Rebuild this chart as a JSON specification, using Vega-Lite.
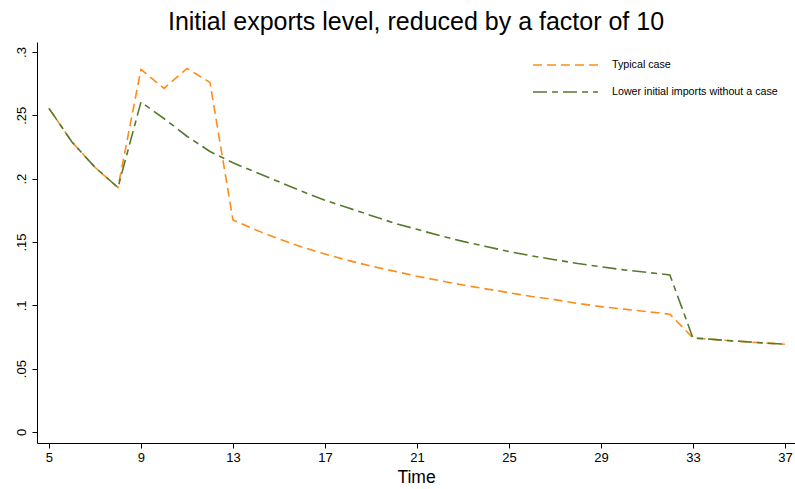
{
  "$schema": "https://vega.github.io/schema/vega-lite/v6.json",
  "width": 758,
  "height": 401,
  "autosize": {"type": "none"},
  "padding": {"left": 37, "top": 42, "right": 0, "bottom": 46},
  "background": "white",
  "config": {
    "font": "Liberation Sans",
    "view": {"stroke": null},
    "axis": {"grid": false, "domainColor": "black", "tickColor": "black", "labelColor": "black", "titleColor": "black", "labelFont": "Liberation Sans", "titleFont": "Liberation Sans", "titleFontWeight": "normal"}
  },
  "title": {"text": "Initial exports level, reduced by a factor of 10", "fontSize": 25, "fontWeight": "normal", "font": "Liberation Sans", "color": "black", "offset": 7, "anchor": "middle"},
  "data": {"values": [
    {"t": 5, "s": "Typical case", "v": 0.2555},
    {"t": 6, "s": "Typical case", "v": 0.229},
    {"t": 7, "s": "Typical case", "v": 0.209},
    {"t": 8, "s": "Typical case", "v": 0.193},
    {"t": 9, "s": "Typical case", "v": 0.2863},
    {"t": 10, "s": "Typical case", "v": 0.2713},
    {"t": 11, "s": "Typical case", "v": 0.287},
    {"t": 12, "s": "Typical case", "v": 0.276},
    {"t": 13, "s": "Typical case", "v": 0.1674},
    {"t": 14, "s": "Typical case", "v": 0.1595},
    {"t": 15, "s": "Typical case", "v": 0.1525},
    {"t": 16, "s": "Typical case", "v": 0.146},
    {"t": 17, "s": "Typical case", "v": 0.1405},
    {"t": 18, "s": "Typical case", "v": 0.1355},
    {"t": 19, "s": "Typical case", "v": 0.131},
    {"t": 20, "s": "Typical case", "v": 0.127},
    {"t": 21, "s": "Typical case", "v": 0.123},
    {"t": 22, "s": "Typical case", "v": 0.1195},
    {"t": 23, "s": "Typical case", "v": 0.116},
    {"t": 24, "s": "Typical case", "v": 0.113},
    {"t": 25, "s": "Typical case", "v": 0.11},
    {"t": 26, "s": "Typical case", "v": 0.107},
    {"t": 27, "s": "Typical case", "v": 0.1045},
    {"t": 28, "s": "Typical case", "v": 0.1015},
    {"t": 29, "s": "Typical case", "v": 0.099},
    {"t": 30, "s": "Typical case", "v": 0.097},
    {"t": 31, "s": "Typical case", "v": 0.095},
    {"t": 32, "s": "Typical case", "v": 0.093},
    {"t": 33, "s": "Typical case", "v": 0.0743},
    {"t": 34, "s": "Typical case", "v": 0.0729},
    {"t": 35, "s": "Typical case", "v": 0.0716},
    {"t": 36, "s": "Typical case", "v": 0.0704},
    {"t": 37, "s": "Typical case", "v": 0.0693},
    {"t": 5, "s": "Lower initial imports without a case", "v": 0.2555},
    {"t": 6, "s": "Lower initial imports without a case", "v": 0.229},
    {"t": 7, "s": "Lower initial imports without a case", "v": 0.209},
    {"t": 8, "s": "Lower initial imports without a case", "v": 0.193},
    {"t": 9, "s": "Lower initial imports without a case", "v": 0.2605},
    {"t": 10, "s": "Lower initial imports without a case", "v": 0.2475},
    {"t": 11, "s": "Lower initial imports without a case", "v": 0.2335},
    {"t": 12, "s": "Lower initial imports without a case", "v": 0.2215},
    {"t": 13, "s": "Lower initial imports without a case", "v": 0.2125},
    {"t": 14, "s": "Lower initial imports without a case", "v": 0.205},
    {"t": 15, "s": "Lower initial imports without a case", "v": 0.1975},
    {"t": 16, "s": "Lower initial imports without a case", "v": 0.19},
    {"t": 17, "s": "Lower initial imports without a case", "v": 0.183},
    {"t": 18, "s": "Lower initial imports without a case", "v": 0.177},
    {"t": 19, "s": "Lower initial imports without a case", "v": 0.171},
    {"t": 20, "s": "Lower initial imports without a case", "v": 0.165},
    {"t": 21, "s": "Lower initial imports without a case", "v": 0.16},
    {"t": 22, "s": "Lower initial imports without a case", "v": 0.155},
    {"t": 23, "s": "Lower initial imports without a case", "v": 0.1505},
    {"t": 24, "s": "Lower initial imports without a case", "v": 0.1465},
    {"t": 25, "s": "Lower initial imports without a case", "v": 0.1425},
    {"t": 26, "s": "Lower initial imports without a case", "v": 0.139},
    {"t": 27, "s": "Lower initial imports without a case", "v": 0.136},
    {"t": 28, "s": "Lower initial imports without a case", "v": 0.133},
    {"t": 29, "s": "Lower initial imports without a case", "v": 0.1305},
    {"t": 30, "s": "Lower initial imports without a case", "v": 0.128},
    {"t": 31, "s": "Lower initial imports without a case", "v": 0.126},
    {"t": 32, "s": "Lower initial imports without a case", "v": 0.124},
    {"t": 33, "s": "Lower initial imports without a case", "v": 0.0743},
    {"t": 34, "s": "Lower initial imports without a case", "v": 0.0729},
    {"t": 35, "s": "Lower initial imports without a case", "v": 0.0716},
    {"t": 36, "s": "Lower initial imports without a case", "v": 0.0704},
    {"t": 37, "s": "Lower initial imports without a case", "v": 0.0693}
  ]},
  "mark": {"type": "line", "strokeWidth": 1.6},
  "encoding": {
    "x": {"field": "t", "type": "quantitative", "title": "Time",
      "scale": {"domain": [4.48, 37.44], "nice": false, "zero": false},
      "axis": {"values": [5, 9, 13, 17, 21, 25, 29, 33, 37], "labelFontSize": 13, "titleFontSize": 17.5, "tickSize": 5, "labelPadding": 3, "titlePadding": 4, "labelFlush": false}},
    "y": {"field": "v", "type": "quantitative", "title": null,
      "scale": {"domain": [-0.00868, 0.3079], "nice": false, "zero": false},
      "axis": {"values": [0, 0.05, 0.1, 0.15, 0.2, 0.25, 0.3], "labelExpr": "datum.value == 0 ? '0' : replace(format(datum.value, '.2~f'), '0.', '.')", "labelFontSize": 13, "labelAngle": 270, "labelAlign": "center", "labelBaseline": "bottom", "tickSize": 5, "labelPadding": 4}},
    "color": {"field": "s", "type": "nominal", "title": null,
      "scale": {"domain": ["Typical case", "Lower initial imports without a case"], "range": ["#FF8C1A", "#557A2E"]},
      "legend": {"orient": "none", "legendX": 521, "legendY": 15.5, "symbolType": "M-5,0H5", "symbolSize": 169, "symbolStrokeWidth": 1.6, "labelFontSize": 10.7, "labelOffset": 39, "labelLimit": 0, "rowPadding": 14, "labelColor": "black", "labelFont": "Liberation Sans"}},
    "strokeDash": {"field": "s", "type": "nominal", "title": null,
      "scale": {"domain": ["Typical case", "Lower initial imports without a case"], "range": [[9, 5], [14, 5, 6, 5]]}},
    "order": {"field": "t", "type": "quantitative"}
  }
}
